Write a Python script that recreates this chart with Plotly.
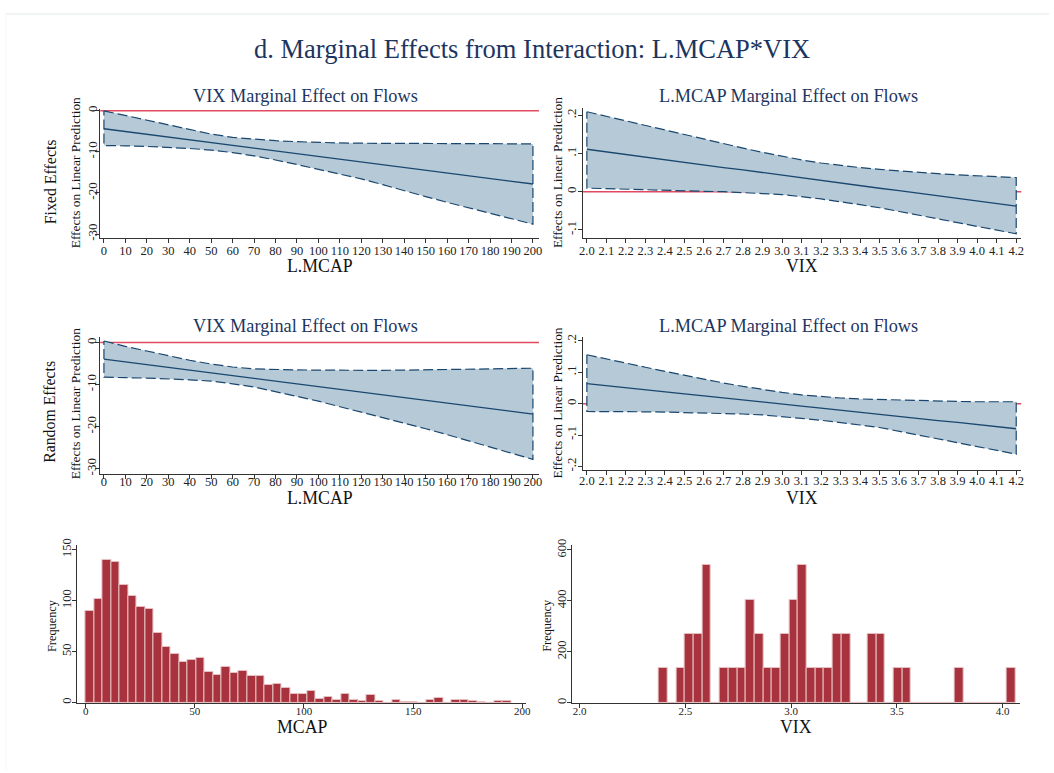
import plotly.graph_objects as go

W, H = 1054, 773

# ---------------- data ----------------
lmcap = [0, 10, 20, 30, 40, 50, 60, 70, 80, 90, 100, 110, 120, 130, 140, 150, 160, 170, 180, 190, 200]
lmcap_ticks = [0, 10, 20, 30, 40, 50, 60, 70, 80, 90, 100, 110, 120, 130, 140, 150, 160, 170, 180, 190, 200]

fe_vix_est = [-4.40, -5.07, -5.74, -6.42, -7.09, -7.76, -8.43, -9.10, -9.78, -10.45, -11.12,
              -11.79, -12.46, -13.14, -13.81, -14.48, -15.15, -15.82, -16.50, -17.17, -17.84]
fe_vix_hi = [-0.05, -1.2, -2.3, -3.4, -4.6, -5.7, -6.5, -6.95, -7.3, -7.55, -7.75,
             -7.85, -7.92, -7.96, -7.98, -8.0, -8.02, -8.04, -8.05, -8.06, -8.08]
fe_vix_lo = [-8.48, -8.55, -8.7, -8.9, -9.2, -9.6, -10.2, -11.0, -12.0, -13.1, -14.2,
             -15.4, -16.6, -18.0, -19.4, -20.9, -22.3, -23.7, -25.0, -26.3, -27.6]

re_vix_est = [-3.92, -4.57, -5.23, -5.88, -6.54, -7.19, -7.84, -8.50, -9.15, -9.81, -10.46,
              -11.11, -11.77, -12.42, -13.08, -13.73, -14.38, -15.04, -15.69, -16.35, -17.00]
re_vix_hi = [0.39, -0.9, -2.0, -3.13, -4.2, -5.1, -5.8, -6.27, -6.45, -6.5, -6.55,
             -6.6, -6.6, -6.6, -6.55, -6.5, -6.45, -6.4, -6.3, -6.2, -6.1]
re_vix_lo = [-8.22, -8.35, -8.45, -8.6, -8.85, -9.16, -9.8, -10.57, -11.75, -12.8, -13.94,
             -15.2, -16.45, -17.8, -19.2, -20.5, -21.9, -23.4, -24.9, -26.3, -27.8]

vix = [2.0, 2.1, 2.2, 2.3, 2.4, 2.5, 2.6, 2.7, 2.8, 2.9, 3.0, 3.1, 3.2, 3.3, 3.4, 3.5,
       3.6, 3.7, 3.8, 3.9, 4.0, 4.1, 4.2]
vix_tick_labels = ["2.0", "2.1", "2.2", "2.3", "2.4", "2.5", "2.6", "2.7", "2.8", "2.9", "3.0",
                   "3.1", "3.2", "3.3", "3.4", "3.5", "3.6", "3.7", "3.8", "3.9", "4.0", "4.1", "4.2"]

fe_mcap_est = [0.111, 0.104, 0.097, 0.090, 0.084, 0.077, 0.070, 0.063, 0.057, 0.050, 0.043, 0.036,
               0.030, 0.023, 0.016, 0.009, 0.003, -0.004, -0.011, -0.018, -0.024, -0.031, -0.038]
fe_mcap_hi = [0.209, 0.197, 0.184, 0.172, 0.160, 0.1485, 0.137, 0.125, 0.114, 0.103, 0.0927, 0.083,
              0.075, 0.068, 0.063, 0.0584, 0.054, 0.050, 0.047, 0.044, 0.042, 0.040, 0.037]
fe_mcap_lo = [0.0094, 0.008, 0.007, 0.005, 0.004, 0.0026, 0.001, 0.0, -0.002, -0.005, -0.0077, -0.013,
              -0.019, -0.026, -0.034, -0.042, -0.051, -0.061, -0.071, -0.081, -0.092, -0.101, -0.110]

re_mcap_est = [0.064, 0.057, 0.051, 0.044, 0.038, 0.031, 0.025, 0.018, 0.012, 0.005, -0.001, -0.008,
               -0.014, -0.021, -0.027, -0.034, -0.040, -0.047, -0.054, -0.060, -0.067, -0.073, -0.080]
re_mcap_hi = [0.156, 0.142, 0.129, 0.116, 0.103, 0.090, 0.078, 0.066, 0.055, 0.045, 0.036, 0.028,
              0.022, 0.018, 0.015, 0.013, 0.011, 0.009, 0.008, 0.007, 0.006, 0.006, 0.006]
re_mcap_lo = [-0.025, -0.025, -0.026, -0.026, -0.027, -0.027, -0.029, -0.031, -0.033, -0.036, -0.041, -0.047,
              -0.053, -0.060, -0.068, -0.076, -0.087, -0.099, -0.111, -0.123, -0.137, -0.149, -0.161]

# histogram of MCAP
mcap_bin_start = 0.0
mcap_bin_width = 3.9
mcap_counts = [90, 102, 140, 138, 115, 105, 94, 92, 68, 55, 48, 40, 42, 44, 30, 27, 35, 29, 31, 26,
               26, 17, 18, 14, 8, 8, 11, 4, 6, 3, 8, 3, 2, 7, 2, 0, 3, 1, 1, 0,
               3, 5, 0, 3, 3, 2, 1, 0, 2, 2]

# histogram of VIX
vix_bin_start = 2.375
vix_bin_width = 0.0411
vix_counts = [135, 0, 135, 270, 270, 540, 0, 135, 135, 135, 405, 270, 135, 135, 270, 405, 540,
              135, 135, 135, 270, 270, 0, 0, 270, 270, 0, 135, 135, 0, 0, 0, 0, 0, 135,
              0, 0, 0, 0, 0, 135]

# ---------------- styles ----------------
FONT = "Liberation Serif, Times New Roman, serif"
NAVY = "#1a476f"
TITLE_NAVY = "#1c3560"
BAND = "#b5c9d6"
REDLINE = "#e24a60"
BAR = "#a8323e"
BAR_EDGE = "#e6c2c2"
AX = "#333333"


def fx(px):
    return px / W


def fy(py):
    return 1 - py / H


fig = go.Figure()

# panel geometry in pixels: (left, right, top, bottom), x range, y range, label standoffs
panels = [
    dict(px=(98, 540, 103, 234), xr=[-1.712, 202.78], yr=[-30.96, 0.48], xs=-3, ys=-7),
    dict(px=(584, 1026, 102, 234), xr=[1.978, 4.2256], yr=[-0.121, 0.2197], xs=-3, ys=-4),
    dict(px=(98, 540, 334, 473), xr=[-1.712, 202.78], yr=[-31.24, 1.41], xs=-8, ys=-6),
    dict(px=(584, 1026, 334, 469), xr=[1.978, 4.2256], yr=[-0.2113, 0.2135], xs=-5, ys=-4),
    dict(px=(75, 527, 545, 705), xr=[-3.77, 201.7], yr=[-0.3, 154.5], xs=-6, ys=-4),
    dict(px=(573, 1025, 545, 705), xr=[1.9625, 4.083], yr=[-1.0, 619.4], xs=-6, ys=-4),
]

layout_axes = {}
for i, p in enumerate(panels, start=1):
    l, r, t, b = p["px"]
    xn = "xaxis" if i == 1 else f"xaxis{i}"
    yn = "yaxis" if i == 1 else f"yaxis{i}"
    layout_axes[xn] = dict(domain=[fx(l), fx(r)], range=p["xr"], anchor=f"y{'' if i == 1 else i}",
                           showgrid=False, zeroline=False, showline=True, linecolor=AX, linewidth=1,
                           ticks="outside", ticklen=4, tickcolor=AX, tickwidth=1,
                           ticklabelstandoff=p["xs"],
                           tickfont=dict(family=FONT, size=12.5, color="#222"))
    layout_axes[yn] = dict(domain=[fy(b), fy(t)], range=p["yr"], anchor=f"x{'' if i == 1 else i}",
                           showgrid=False, zeroline=False, showline=True, linecolor=AX, linewidth=1,
                           ticks="outside", ticklen=4, tickcolor=AX, tickwidth=1, tickangle=-90,
                           ticklabelstandoff=p["ys"],
                           tickfont=dict(family=FONT, size=13, color="#222"))

# tick setups
for k in ("xaxis", "xaxis3"):
    layout_axes[k].update(tickmode="array", tickvals=lmcap_ticks, ticktext=[str(v) for v in lmcap_ticks])
for k in ("xaxis2", "xaxis4"):
    layout_axes[k].update(tickmode="array", tickvals=vix, ticktext=vix_tick_labels)
for k in ("yaxis", "yaxis3"):
    layout_axes[k].update(tickmode="array", tickvals=[0, -10, -20, -30], ticktext=["0", "-10", "-20", "-30"])
layout_axes["yaxis2"].update(tickmode="array", tickvals=[-0.1, 0, 0.1, 0.2], ticktext=["-.1", "0", ".1", ".2"])
layout_axes["yaxis4"].update(tickmode="array", tickvals=[-0.2, -0.1, 0, 0.1, 0.2],
                             ticktext=["-.2", "-.1", "0", ".1", ".2"])
layout_axes["xaxis5"].update(tickmode="array", tickvals=[0, 50, 100, 150, 200],
                             ticktext=["0", "50", "100", "150", "200"], tickfont=dict(family=FONT, size=11, color="#222"))
layout_axes["yaxis5"].update(tickmode="array", tickvals=[0, 50, 100, 150], ticktext=["0", "50", "100", "150"],
                             tickfont=dict(family=FONT, size=12.5, color="#222"))
layout_axes["xaxis6"].update(tickmode="array", tickvals=[2.0, 2.5, 3.0, 3.5, 4.0],
                             ticktext=["2.0", "2.5", "3.0", "3.5", "4.0"], tickfont=dict(family=FONT, size=11, color="#222"))
layout_axes["yaxis6"].update(tickmode="array", tickvals=[0, 200, 400, 600], ticktext=["0", "200", "400", "600"],
                             tickfont=dict(family=FONT, size=12.5, color="#222"))


def add_margins(xs, est, lo, hi, ax):
    xa = "x" if ax == 1 else f"x{ax}"
    ya = "y" if ax == 1 else f"y{ax}"
    poly_x = list(xs) + list(xs[::-1]) + [xs[0]]
    poly_y = list(hi) + list(lo[::-1]) + [hi[0]]
    fig.add_trace(go.Scatter(x=poly_x, y=poly_y, mode="lines", fill="toself", fillcolor=BAND,
                             line=dict(color=NAVY, width=1.2, dash="10px,4px"),
                             xaxis=xa, yaxis=ya, showlegend=False, hoverinfo="skip"))
    fig.add_trace(go.Scatter(x=xs, y=est, mode="lines", line=dict(color=NAVY, width=1.3),
                             xaxis=xa, yaxis=ya, showlegend=False))


add_margins(lmcap, fe_vix_est, fe_vix_lo, fe_vix_hi, 1)
add_margins(vix, fe_mcap_est, fe_mcap_lo, fe_mcap_hi, 2)
add_margins(lmcap, re_vix_est, re_vix_lo, re_vix_hi, 3)
add_margins(vix, re_mcap_est, re_mcap_lo, re_mcap_hi, 4)

mcap_centers = [mcap_bin_start + (k + 0.5) * mcap_bin_width for k in range(len(mcap_counts))]
vix_centers = [vix_bin_start + (k + 0.5) * vix_bin_width for k in range(len(vix_counts))]

fig.add_trace(go.Bar(x=mcap_centers, y=mcap_counts, width=mcap_bin_width,
                     marker=dict(color=BAR, line=dict(color=BAR_EDGE, width=1)),
                     xaxis="x5", yaxis="y5", showlegend=False))
fig.add_trace(go.Bar(x=vix_centers, y=vix_counts, width=vix_bin_width,
                     marker=dict(color=BAR, line=dict(color=BAR_EDGE, width=1)),
                     xaxis="x6", yaxis="y6", showlegend=False))

shapes = []
for i in range(1, 5):
    xr = "x domain" if i == 1 else f"x{i} domain"
    yr = "y" if i == 1 else f"y{i}"
    shapes.append(dict(type="line", xref=xr, yref=yr, x0=0, x1=1, y0=0, y1=0,
                       line=dict(color=REDLINE, width=1.5), layer="below"))
# faint page border
shapes.append(dict(type="line", xref="paper", yref="paper", x0=fx(3), x1=1, y0=fy(7), y1=fy(7),
                   line=dict(color="#e2e9e8", width=1)))
shapes.append(dict(type="line", xref="paper", yref="paper", x0=fx(3), x1=fx(3), y0=0, y1=fy(7),
                   line=dict(color="#f3f5f5", width=1)))

ann = []


def text(x, y, s, size, color="#111", angle=0):
    ann.append(dict(x=fx(x), y=fy(y), xref="paper", yref="paper", text=s, showarrow=False,
                    xanchor="center", yanchor="middle", textangle=angle, borderpad=0,
                    font=dict(family=FONT, size=size, color=color)))


text(533, 43, "d. Marginal Effects from Interaction: L.MCAP*VIX", 26.5, TITLE_NAVY)
text(305, 90, "VIX Marginal Effect on Flows", 18.3, TITLE_NAVY)
text(792, 90, "L.MCAP Marginal Effect on Flows", 18.3, TITLE_NAVY)
text(305, 323, "VIX Marginal Effect on Flows", 18.3, TITLE_NAVY)
text(792, 323, "L.MCAP Marginal Effect on Flows", 18.3, TITLE_NAVY)

text(319, 262, "L.MCAP", 17.8)
text(805, 262, "VIX", 17.8)
text(319, 497, "L.MCAP", 17.8)
text(805, 497, "VIX", 17.8)
text(302, 729, "MCAP", 17.8)
text(799, 729, "VIX", 17.8)

text(72.5, 167.5, "Effects on Linear Prediction", 13.4, angle=-90)
text(559, 167.5, "Effects on Linear Prediction", 13.4, angle=-90)
text(72.5, 401.5, "Effects on Linear Prediction", 13.4, angle=-90)
text(559, 401, "Effects on Linear Prediction", 13.4, angle=-90)
text(47.5, 177.5, "Fixed Effects", 15.9, angle=-90)
text(47.5, 410, "Random Effects", 15.8, angle=-90)
text(50, 626.5, "Frequency", 12.3, angle=-90)
text(548, 626, "Frequency", 12.3, angle=-90)

fig.update_layout(width=W, height=H, margin=dict(l=0, r=0, t=0, b=0),
                  paper_bgcolor="white", plot_bgcolor="white", showlegend=False,
                  bargap=0, shapes=shapes, annotations=ann, **layout_axes)

fig.write_html("out.html", config={"displayModeBar": False},
               post_script="document.body.style.margin='0';document.body.style.overflow='hidden';")
